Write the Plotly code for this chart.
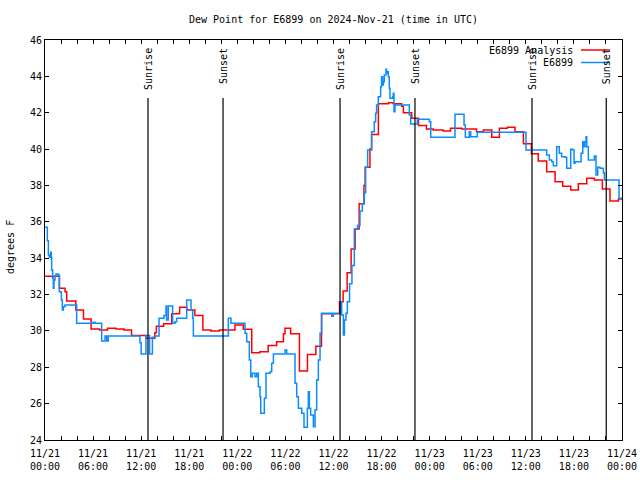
import pandas as pd
import plotly.graph_objects as go

BASE = pd.Timestamp("2024-11-21 00:00")

# Analysis (red): hours since 11/21 00:00 UTC, dew point (F)
analysis_hours = [0, 1.8, 2.5, 2.7, 3.85, 4.8, 5.75, 6.8, 7.8, 8.85, 9.85, 10.8, 12.6, 13.7, 13.9,
                  14.8, 15.8, 16.8, 17.7, 18.7, 19.7, 20.7, 21.75, 23.7, 24.75, 25.8, 26.8, 27.85,
                  28.9, 29.75, 29.95, 30.65, 31.75, 32.75, 33.8, 34.5, 36.75, 37.2, 37.7, 38.2,
                  38.7, 39.2, 39.8, 39.95, 40.55, 40.75, 41.6, 42.85, 43.45, 44.5, 44.72, 45.76,
                  46.6, 47.6, 48.45, 49.7, 50.6, 52.0, 53.85, 54.7, 55.75, 56.7, 57.7, 58.65,
                  59.7, 60.7, 61.55, 62.6, 63.65, 64.6, 65.6, 66.55, 67.6, 68.55, 69.55, 70.5,
                  71.55, 72.0]
analysis_vals = [33.0, 32.35, 32.15, 31.65, 31.15, 30.65, 30.1, 30.05, 30.15, 30.1, 30.05, 29.75,
                 29.6, 29.9, 30.25, 30.4, 30.95, 31.3, 31.15, 30.85, 30.05, 30.0, 30.05, 30.33,
                 30.09, 28.8, 28.86, 29.2, 29.4, 29.85, 30.15, 29.85, 27.8, 28.7, 29.15, 30.95,
                 31.6, 32.2, 33.2, 34.5, 35.6, 37.0, 38.0, 39.0, 40.0, 40.8, 42.5, 42.55, 42.5,
                 42.35, 42.0, 41.7, 41.3, 41.1, 41.05, 41.0, 41.15, 41.1, 40.95, 41.05, 40.65,
                 41.15, 41.2, 40.95, 40.3, 39.75, 39.35, 38.75, 38.2, 37.95, 37.75, 38.1, 38.4,
                 38.3, 37.8, 37.15, 37.25, 37.25]

# Station observations (blue)
station_hours = [0.0, 0.29, 0.42, 0.54, 0.71, 0.78, 0.83, 0.96, 1.04, 1.12, 1.25, 1.37, 1.66, 1.79,
                 2.04, 2.16, 2.29, 2.5, 3.95, 6.03, 6.24, 7.07, 7.49, 7.7, 7.9, 11.85, 12.0,
                 12.6, 13.05, 13.4, 13.75, 14.23, 14.85, 15.1, 15.18, 15.39, 15.93, 16.22, 16.43,
                 17.68, 18.22, 18.43, 18.51, 22.88, 23.21, 24.96, 25.17, 25.5, 25.67, 25.88,
                 26.21, 26.42, 26.62, 26.83, 26.92, 27.37, 27.58, 28.08, 28.29, 28.5, 29.95,
                 30.16, 31.2, 31.41, 31.62, 32.03, 32.32, 32.74, 32.86, 32.99, 33.15, 33.49,
                 33.7, 33.9, 34.11, 34.32, 34.53, 35.78, 35.98, 36.9, 37.02, 37.23, 37.36, 37.56,
                 37.73, 38.0, 38.3, 38.6, 39.0, 39.3, 39.6, 39.85, 40.01, 40.26, 40.76, 41.09,
                 41.26, 41.38, 41.59, 41.88, 42.0, 42.13, 42.22, 42.34, 42.55, 42.63, 42.71,
                 42.84, 42.96, 43.05, 43.38, 43.46, 43.55, 43.67, 45.46, 45.63, 46.46, 47.96,
                 48.13, 51.16, 52.29, 52.45, 52.95, 53.12, 53.95, 60.02, 62.6, 62.94, 63.23,
                 63.43, 63.85, 64.18, 64.47, 64.89, 65.1, 65.6, 65.85, 66.01, 66.14, 66.89,
                 67.1, 67.26, 67.39, 67.51, 67.6, 67.8, 68.55, 68.76, 68.97, 69.26, 69.67, 69.8,
                 71.55, 71.63, 72.0]
station_vals = [35.7, 34.96, 34.18, 34.05, 34.32, 34.05, 33.35, 32.9, 32.34, 32.8, 33.0, 33.13,
                33.07, 32.16, 31.7, 31.15, 31.33, 31.43, 30.42, 30.47, 30.42, 29.45, 29.72, 29.45,
                29.72, 29.35, 28.73, 29.75, 28.73, 29.65, 29.72, 30.69, 30.85, 31.37, 30.6,
                31.37, 30.42, 30.5, 30.69, 31.7, 31.15, 30.69, 29.72, 30.69, 30.42, 29.87,
                29.41, 28.4, 27.48, 27.67, 27.48, 27.67, 26.93, 26.38, 25.47, 26.29, 27.67,
                27.76, 28.22, 28.73, 28.95, 28.73, 27.12, 26.38, 25.74, 25.47, 24.7, 25.74,
                26.66, 25.74, 25.37, 24.73, 25.65, 27.3, 28.4, 29.87, 30.97, 30.8, 30.97, 31.6,
                30.87, 29.78, 30.6, 30.97, 31.6, 32.6, 33.6, 35.6, 35.8, 36.6, 37.0, 37.6, 39.0,
                39.95, 40.96, 41.51, 41.97, 42.43, 42.88, 43.43, 43.98, 43.53, 43.71, 44.08,
                44.39, 44.17, 44.26, 43.98, 43.34, 42.79, 42.88, 43.07, 42.06, 42.43, 41.88,
                41.38, 41.64, 41.5, 40.65, 41.91, 41.33, 40.65, 40.96, 40.68, 40.92, 39.95,
                39.68, 39.4, 39.31, 39.09, 40.13, 39.77, 39.58, 39.55, 38.94, 39.99, 39.95,
                39.22, 39.31, 39.77, 40.41, 40.13, 40.41, 40.68, 40.13, 39.4, 39.62, 38.58,
                39.0, 38.94, 38.7, 38.3, 38.3, 37.3, 37.3]

sun_times = ["2024-11-21 12:51", "2024-11-21 22:13", "2024-11-22 12:49",
             "2024-11-22 22:10", "2024-11-23 12:46", "2024-11-23 22:02"]
sun_labels = ["Sunrise", "Sunset", "Sunrise", "Sunset", "Sunrise", "Sunset"]

series_names = ["E6899 Analysis", "E6899"]
series_colors = ["#ff0000", "#0a8cff"]

FONT = "DejaVu Sans Mono"

ax = BASE + pd.to_timedelta(analysis_hours, unit="h")
sx = BASE + pd.to_timedelta(station_hours, unit="h")

fig = go.Figure()
fig.add_trace(go.Scatter(x=ax, y=analysis_vals, mode="lines", line_shape="hv",
                         line=dict(color=series_colors[0], width=1.5), name=series_names[0]))
fig.add_trace(go.Scatter(x=sx, y=station_vals, mode="lines", line_shape="hv",
                         line=dict(color=series_colors[1], width=1.5), name=series_names[1]))

L, R, T, B = 45, 18, 40, 40
W, H = 640, 480
pw, ph = W - L - R, H - T - B

def px_x(p):
    return (p - L) / pw

def px_y(p):
    return (H - B - p) / ph

shapes = []
annotations = []
for t, lab in zip(sun_times, sun_labels):
    shapes.append(dict(type="line", xref="x", yref="paper", x0=t, x1=t,
                       y0=0, y1=px_y(98), line=dict(color="black", width=1.2)))
    annotations.append(dict(x=t, xref="x", y=px_y(46), yref="paper", text=lab,
                            textangle=-90, showarrow=False, xanchor="center", yanchor="top",
                            font=dict(family=FONT, size=10, color="black")))

legend_rows = [50, 62.5]
for name, col, yy in zip(series_names, series_colors, legend_rows):
    annotations.append(dict(x=px_x(575), xref="paper", y=px_y(yy), yref="paper", text=name,
                            showarrow=False, xanchor="right", yanchor="middle",
                            font=dict(family=FONT, size=10, color="black")))
    shapes.append(dict(type="line", xref="paper", yref="paper", x0=px_x(581), x1=px_x(609),
                       y0=px_y(yy), y1=px_y(yy), line=dict(color=col, width=1.5)))

annotations.append(dict(x=px_x(10), xref="paper", y=px_y(247), yref="paper", text="degrees F",
                        textangle=-90, showarrow=False, xanchor="center", yanchor="middle",
                        font=dict(family=FONT, size=10, color="black")))

fig.update_layout(
    width=W, height=H,
    margin=dict(l=L, r=R, t=T, b=B, autoexpand=False),
    paper_bgcolor="white", plot_bgcolor="white",
    showlegend=False,
    title=dict(text="Dew Point for E6899 on 2024-Nov-21 (time in UTC)",
               x=0.5, xref="paper", xanchor="center",
               y=1 - 19 / H, yref="container", yanchor="middle",
               font=dict(family=FONT, size=10, color="black")),
    font=dict(family=FONT, size=10, color="black"),
    shapes=shapes, annotations=annotations,
)
fig.update_xaxes(type="date", range=["2024-11-21 00:00", "2024-11-24 00:00"],
                 automargin=False,
                 dtick=6 * 3600 * 1000, tick0="2024-11-21 00:00",
                 tickformat="%m/%d<br>%H:%M", ticks="inside", ticklen=4, tickcolor="black",
                 ticklabelstandoff=4,
                 minor=dict(dtick=2 * 3600 * 1000, ticks="inside", ticklen=4, tickcolor="black"),
                 showline=True, linecolor="black", linewidth=1, mirror="ticks",
                 showgrid=False, zeroline=False,
                 tickfont=dict(family=FONT, size=10, color="black"))
fig.update_yaxes(range=[24, 46], dtick=2, ticks="inside", ticklen=4, tickcolor="black",
                 automargin=False,
                 showline=True, linecolor="black", linewidth=1, mirror="ticks",
                 showgrid=False, zeroline=False,
                 tickfont=dict(family=FONT, size=10, color="black"))

fig.write_html("out.html")
